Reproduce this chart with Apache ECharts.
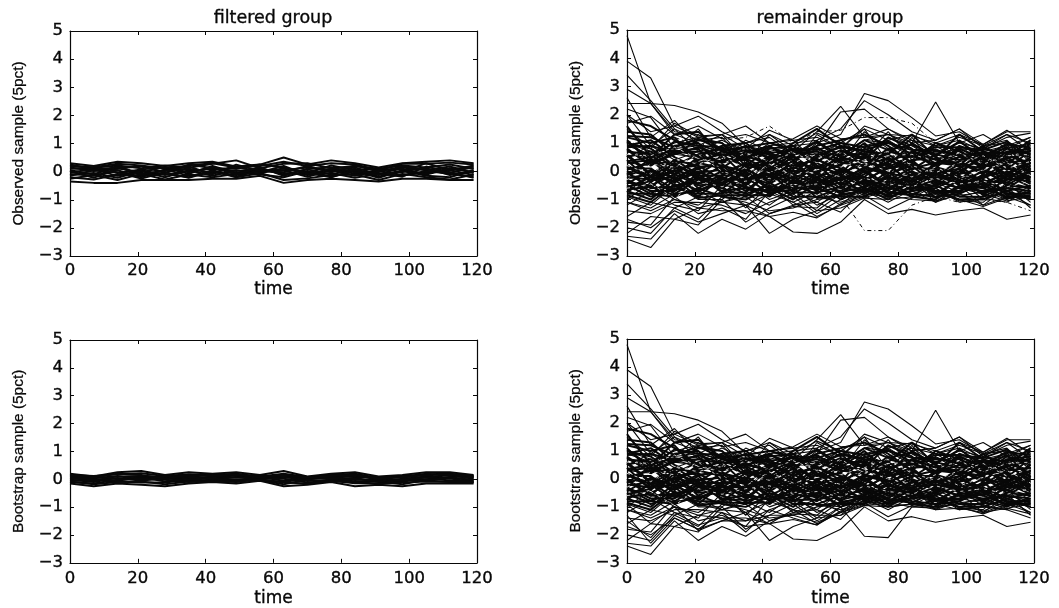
<!DOCTYPE html>
<html><head><meta charset="utf-8">
<style>html,body{margin:0;padding:0;background:#fff}#c{width:1059px;height:608px}</style>
<script src="https://cdn.jsdelivr.net/npm/echarts@6/dist/echarts.min.js"></script>
</head><body><div id="c"></div>
<script>
const times=[0,7,14,21,28,35,42,49,56,63,70,77,84,91,98,105,112,119];
const xTicks={min:0,max:120,interval:20};
const yTicks={min:-3,max:5,interval:1};
const titles=["filtered group","remainder group"];
const xName="time";
const yNames=["Observed sample (5pct)","Bootstrap sample (5pct)"];

const filteredObserved=[
[0.30,0.20,0.35,0.30,0.20,0.30,0.35,0.18,0.25,0.50,0.25,0.40,0.30,0.15,0.30,0.35,0.40,0.30],
[0.22,0.14,0.22,0.12,0.22,0.14,0.28,0.40,0.12,0.28,0.30,0.12,0.20,0.10,0.22,0.15,0.25,0.10],
[0.15,0.02,0.10,0.20,-0.05,0.25,0.12,0.10,0.25,0.15,-0.05,0.22,0.05,0.12,-0.02,0.30,0.05,0.22],
[0.10,0.12,-0.05,0.08,0.14,-0.08,0.20,-0.05,0.05,0.05,0.15,0.02,0.15,-0.10,0.15,0.05,0.18,-0.05],
[0.05,-0.10,0.20,-0.12,0.05,0.10,-0.05,0.18,-0.02,0.20,-0.12,0.10,-0.08,0.05,0.10,-0.10,0.10,0.12],
[-0.02,0.08,-0.15,0.05,-0.12,0.02,0.10,0.02,0.10,-0.10,0.08,-0.10,0.10,-0.18,0.02,0.12,-0.12,0.02],
[-0.08,-0.15,0.05,-0.20,0.08,-0.15,-0.02,-0.12,0.02,0.05,-0.18,0.06,-0.15,0.02,-0.12,-0.04,0.05,-0.12],
[-0.12,-0.05,-0.22,0.02,-0.20,0.05,-0.15,0.05,-0.10,-0.20,0.02,-0.18,0.02,-0.22,0.05,-0.15,-0.20,0.06],
[-0.20,-0.28,-0.10,-0.15,-0.08,-0.20,0.05,-0.18,0.06,-0.05,-0.10,-0.05,-0.22,-0.08,-0.15,0.02,-0.08,-0.18],
[-0.25,-0.12,-0.30,-0.08,-0.28,-0.10,-0.20,-0.08,-0.05,-0.30,-0.24,-0.12,-0.10,-0.30,-0.08,-0.20,-0.28,-0.10],
[-0.35,-0.40,-0.40,-0.30,-0.30,-0.30,-0.25,-0.25,-0.15,-0.40,-0.30,-0.25,-0.30,-0.35,-0.25,-0.25,-0.30,-0.30],
[0.18,0.16,0.28,0.22,0.10,0.22,0.30,0.15,0.20,0.35,0.20,0.30,0.25,0.05,0.28,0.28,0.32,0.25],
[0.02,-0.22,0.12,-0.02,0.16,-0.02,0.15,-0.10,0.16,-0.15,0.10,0.15,-0.02,-0.05,-0.18,0.18,-0.02,-0.22],
[-0.15,0.05,-0.02,-0.25,-0.02,-0.22,0.02,-0.20,-0.06,0.12,-0.05,-0.20,0.05,-0.12,0.00,-0.08,0.12,-0.02],
[0.25,0.08,0.15,-0.08,0.02,0.18,-0.10,0.25,0.02,-0.02,0.20,-0.02,0.22,0.00,0.18,0.08,-0.05,0.18]
];
const filteredBootstrap=[
[0.20,0.10,0.25,0.30,0.15,0.25,0.20,0.25,0.15,0.30,0.10,0.20,0.25,0.10,0.15,0.25,0.25,0.15],
[0.15,0.12,0.18,0.22,0.12,0.18,0.15,0.20,0.10,0.20,0.08,0.15,0.20,0.05,0.12,0.18,0.20,0.12],
[0.12,0.05,0.10,0.12,0.08,0.08,0.18,0.12,0.12,0.12,0.02,0.10,0.08,0.08,0.05,0.20,0.12,0.08],
[0.08,0.08,0.02,0.05,0.10,0.12,0.02,0.15,0.05,0.05,0.06,0.02,0.15,-0.02,0.10,0.05,0.15,0.02],
[0.05,-0.05,0.12,-0.02,0.02,0.02,0.10,0.05,0.08,-0.05,0.00,0.08,-0.03,0.02,-0.05,0.12,0.02,0.06],
[0.02,0.02,-0.05,0.08,-0.08,0.05,0.05,-0.02,0.02,0.10,-0.06,-0.02,0.05,-0.10,0.02,0.00,0.08,-0.05],
[-0.02,-0.10,0.05,-0.05,0.05,-0.05,-0.02,0.08,-0.02,-0.10,0.04,0.05,-0.08,-0.05,-0.10,0.08,-0.05,-0.02],
[-0.05,-0.02,-0.08,-0.12,-0.12,-0.02,0.04,-0.08,0.04,0.02,-0.12,-0.05,-0.14,-0.14,-0.02,-0.05,-0.08,-0.08],
[-0.10,-0.15,-0.02,0.02,-0.02,-0.10,-0.05,-0.05,-0.03,-0.18,-0.02,-0.08,0.02,-0.08,-0.18,-0.02,0.04,-0.12],
[-0.15,-0.25,-0.15,-0.20,-0.25,-0.15,-0.10,-0.15,-0.05,-0.25,-0.20,-0.10,-0.25,-0.20,-0.25,-0.15,-0.15,-0.15],
[0.16,0.06,0.20,0.15,0.02,0.15,0.12,0.18,0.06,0.16,0.05,0.12,0.16,0.02,0.08,0.14,0.18,0.10],
[-0.08,-0.18,-0.10,-0.08,-0.18,-0.08,-0.06,-0.10,0.00,-0.12,-0.15,-0.06,-0.10,-0.16,-0.12,-0.08,-0.10,-0.10]
];
const remainderShared=[
[1.80,1.60,1.10,0.50,0.90,1.00,0.40,1.00,1.50,0.90,0.70,0.60,1.30,0.50,1.30,0.70,0.20,1.00],
[1.60,0.50,1.30,1.40,0.70,0.60,0.90,0.40,0.90,1.10,1.30,0.90,0.30,1.00,0.70,0.20,0.80,0.60],
[1.40,1.30,0.60,1.10,1.00,0.20,0.80,0.90,0.10,0.70,0.40,1.20,0.80,0.10,0.90,0.60,0.50,1.10],
[1.20,1.00,1.20,0.30,0.50,0.90,0.10,0.60,0.70,0.40,1.00,0.20,1.00,0.50,0.20,0.90,0.30,0.40],
[1.10,0.30,0.90,1.00,0.10,0.70,0.60,0.10,0.50,0.90,0.10,0.70,0.50,0.70,0.60,0.10,0.70,0.80],
[1.00,0.80,0.20,0.60,0.80,0.10,0.30,0.80,0.20,-0.10,0.80,0.40,0.10,0.30,0.80,0.40,-0.10,0.50],
[0.90,1.10,0.50,0.10,0.30,0.50,0.70,-0.10,0.60,0.30,0.20,0.80,0.30,-0.10,0.10,0.70,0.40,0.10],
[0.80,0.20,0.70,0.80,-0.10,0.30,0.00,0.50,-0.10,0.60,0.60,-0.10,0.70,0.40,0.30,-0.10,0.60,0.20],
[0.70,0.60,-0.10,0.40,0.60,-0.20,0.50,0.20,0.40,0.10,-0.20,0.50,-0.20,0.20,0.50,0.20,0.10,-0.20],
[0.60,-0.10,0.40,-0.10,0.40,0.40,-0.20,0.30,-0.30,0.50,0.30,0.10,0.40,-0.30,0.00,0.50,-0.30,0.30],
[0.50,0.70,0.10,0.20,-0.30,0.20,0.20,-0.30,0.30,-0.20,0.50,-0.30,0.10,0.10,-0.30,0.30,0.20,-0.10],
[0.40,-0.40,0.30,-0.30,0.20,-0.40,0.40,0.00,0.00,0.20,-0.40,0.20,-0.40,0.30,0.20,-0.40,-0.10,0.30],
[0.30,0.40,-0.30,0.00,-0.50,0.10,-0.40,0.40,-0.40,-0.30,0.10,-0.10,0.20,-0.50,-0.10,0.10,-0.50,0.00],
[0.20,-0.20,0.00,0.30,0.10,-0.50,0.10,-0.40,0.20,-0.50,-0.10,0.30,-0.50,0.00,-0.50,-0.20,0.30,-0.40],
[0.10,0.10,-0.50,-0.40,0.00,-0.10,-0.30,-0.10,-0.50,0.00,-0.50,-0.40,0.00,-0.40,0.10,-0.50,0.00,-0.30],
[0.00,-0.60,0.20,-0.60,-0.20,-0.70,0.00,-0.60,-0.10,-0.60,0.00,-0.60,-0.30,-0.20,-0.40,0.00,-0.40,-0.60],
[-0.10,0.00,-0.40,0.10,-0.60,0.00,-0.60,-0.20,-0.70,-0.10,-0.60,0.00,-0.70,-0.60,-0.20,-0.60,-0.20,0.10],
[-0.20,-0.30,-0.20,-0.70,-0.30,-0.30,-0.10,-0.70,-0.20,-0.70,-0.30,-0.70,-0.10,-0.70,-0.70,-0.30,-0.70,-0.50],
[-0.30,-0.70,-0.70,-0.20,-0.70,-0.60,-0.70,-0.40,-0.60,-0.40,-0.70,-0.20,-0.60,-0.30,-0.60,-0.70,-0.60,-0.70],
[-0.40,-0.50,-0.10,-0.50,-0.40,-0.80,-0.50,-0.80,-0.30,-0.80,-0.20,-0.80,-0.40,-0.80,-0.30,-0.80,-0.30,-0.20],
[-0.50,-0.90,-0.60,-0.80,-0.80,-0.20,-0.80,-0.50,-0.80,-0.20,-0.80,-0.40,-0.80,-0.90,-0.80,-0.40,-0.80,-0.80],
[-0.60,-0.20,-0.80,-0.30,-0.60,-0.90,-0.40,-0.90,-0.90,-0.60,-0.40,-0.90,-0.70,-0.50,-0.90,-0.90,-0.50,-0.60],
[-0.70,-1.00,-0.30,-0.90,-0.20,-0.60,-0.90,-0.30,-0.60,-0.90,-0.90,-0.50,-0.90,-1.00,-0.50,-0.60,-0.90,-0.90],
[-0.80,-0.80,-0.90,-0.60,-0.90,-1.00,-0.60,-1.00,-0.40,-1.00,-0.60,-1.00,-0.50,-0.70,-1.00,-1.00,-0.70,-1.00],
[0.35,0.50,0.75,0.55,0.35,0.55,0.25,0.65,0.85,0.35,0.65,0.15,0.55,0.25,0.75,0.15,0.45,0.65],
[0.05,0.30,0.60,0.85,0.55,0.15,0.45,-0.15,0.35,0.75,0.45,0.60,0.05,0.60,0.40,0.45,0.85,0.05],
[0.75,0.25,0.35,0.25,0.70,0.45,0.05,0.35,0.10,0.45,-0.05,0.35,0.65,0.15,-0.10,0.60,0.05,0.75],
[-0.15,0.45,-0.15,0.50,0.20,0.00,0.55,0.10,0.45,-0.05,0.25,0.45,-0.05,-0.15,0.35,-0.05,0.50,-0.05],
[0.55,-0.15,0.25,-0.15,-0.15,0.30,-0.15,0.55,-0.05,0.25,0.55,-0.20,0.40,0.45,0.15,0.35,-0.15,0.40],
[-0.45,0.05,-0.25,0.15,0.25,-0.25,-0.05,-0.25,0.15,-0.35,0.15,-0.05,-0.25,0.05,-0.20,-0.25,0.15,-0.25],
[0.15,-0.30,0.05,-0.20,-0.40,0.05,-0.30,0.15,-0.20,0.05,-0.30,0.10,0.25,-0.25,0.25,0.10,-0.30,0.20],
[-0.25,-0.10,-0.35,-0.05,0.05,-0.45,0.15,-0.45,-0.05,-0.45,0.05,-0.50,-0.10,-0.10,-0.45,-0.15,-0.05,-0.45],
[-0.55,-0.35,0.00,-0.45,-0.15,-0.15,-0.45,0.05,-0.45,0.10,-0.45,-0.25,-0.35,-0.55,0.00,-0.35,-0.40,0.05],
[-0.05,-0.60,-0.55,-0.25,-0.55,-0.35,-0.20,-0.35,-0.55,-0.25,-0.20,-0.60,-0.15,-0.35,-0.60,-0.55,-0.15,-0.55],
[-0.35,-0.80,-0.20,-0.75,-0.25,-0.55,-0.75,-0.65,-0.25,-0.75,-0.55,-0.15,-0.65,-0.05,-0.35,-0.75,-0.60,-0.10],
[-0.75,-0.15,-0.65,-0.10,-0.75,-0.75,-0.05,-0.75,-0.75,-0.55,-0.75,-0.35,-0.50,-0.75,-0.75,-0.10,-0.85,-0.75],
[-0.65,-0.55,-0.85,-0.65,-0.45,-0.05,-0.65,-0.55,-0.65,-0.15,-0.35,-0.75,-0.85,-0.45,-0.15,-0.85,-0.25,-0.35],
[-0.85,-1.10,-0.45,-0.95,-0.85,-0.85,-0.85,-0.15,-0.95,-0.85,-0.65,-0.85,-0.20,-0.95,-0.55,-0.45,-0.95,-0.85],
[0.85,0.90,0.65,0.70,0.55,0.75,0.65,0.75,0.55,0.85,0.75,1.00,0.75,0.75,0.55,0.65,0.65,0.70],
[1.05,0.45,1.05,0.90,0.85,0.45,0.85,0.55,1.05,0.55,1.10,0.75,0.95,0.55,1.05,0.50,0.95,0.85],
[1.25,1.20,0.85,1.15,0.75,0.85,1.00,0.80,0.75,1.00,0.85,1.05,0.60,0.85,0.85,0.75,1.05,0.55]
];
const remainderEdges=[
[4.80,2.40,1.30,1.00,0.60,0.90,0.50,0.80,0.40,0.60,0.90,0.50,0.70,0.30,0.60,0.40,0.70,0.50],
[3.90,3.30,1.60,1.20,1.00,0.50,0.90,0.30,1.00,0.50,1.10,1.00,0.50,0.80,0.30,0.60,0.30,0.80],
[3.40,2.50,1.50,0.70,1.10,0.70,0.20,0.90,0.60,1.00,0.60,1.20,0.90,0.40,0.80,0.50,1.00,0.40],
[2.90,2.40,1.40,1.30,0.80,1.00,1.20,0.60,1.10,0.30,1.40,0.80,1.10,0.60,1.00,0.80,0.60,1.00],
[2.60,1.20,1.80,0.90,1.30,0.40,1.00,1.10,0.30,1.10,0.50,1.40,0.40,1.00,0.50,0.90,1.10,0.30],
[2.20,1.90,0.80,1.50,0.40,1.10,0.70,0.20,1.30,0.80,1.50,0.30,1.20,0.20,1.10,0.30,0.90,1.20],
[2.00,0.90,1.50,1.10,1.20,0.30,1.30,0.70,0.80,0.20,0.90,1.10,0.60,0.90,0.40,0.80,1.30,0.70],
[2.00,1.40,1.60,1.95,1.40,1.00,1.30,0.90,1.35,1.00,1.50,1.10,1.30,0.90,1.20,0.90,1.30,1.00],
[1.70,1.95,1.30,1.60,1.15,1.30,1.00,1.15,1.60,1.15,1.20,1.50,1.00,1.10,1.50,0.80,1.20,1.35],
[1.50,0.80,1.70,1.25,1.30,0.80,1.45,1.10,1.20,0.80,1.60,1.30,1.25,1.00,1.30,0.95,1.45,0.90],
[-0.90,-1.20,-0.50,-1.00,-1.00,-0.40,-1.00,-0.70,-1.10,-0.50,-0.85,-0.70,-0.85,-1.05,-0.70,-0.50,-1.00,-0.70],
[-1.00,-0.40,-1.00,-1.20,-0.70,-1.20,-0.80,-1.10,-0.70,-1.20,-0.50,-0.85,-0.60,-0.60,-1.05,-1.10,-0.40,-1.10],
[-1.10,-1.30,-0.80,-0.70,-1.10,-0.80,-1.20,-0.60,-1.20,-0.80,-0.70,-0.60,-0.80,-0.90,-0.60,-0.80,-1.05,-0.90],
[-1.20,-0.70,-1.20,-1.40,-0.50,-1.30,-0.50,-1.20,-0.90,-1.10,-0.80,-0.90,-0.30,-1.10,-0.80,-1.20,-0.90,-1.20],
[-1.40,-1.50,-1.10,-1.10,-1.20,-1.50,-1.10,-0.80,-1.40,-1.30,-0.95,-1.00,-0.90,-0.80,-1.00,-0.90,-0.80,-1.00],
[-1.60,-1.10,-1.30,-1.70,-0.90,-1.10,-1.40,-1.30,-1.00,-0.90,-0.60,-0.75,-0.70,-1.10,-0.50,-1.20,-0.60,-0.80],
[-1.80,-1.90,-0.90,-1.50,-1.30,-1.70,-0.70,-1.10,-1.60,-1.20,-0.90,-0.30,-0.95,-0.50,-0.90,-0.70,-1.00,-0.50],
[-2.00,-2.20,-1.30,-0.90,-1.10,-0.90,-1.50,-1.25,-1.30,-0.60,-0.40,-0.95,-0.50,-0.90,-0.30,-1.00,-0.50,-0.95],
[-2.20,-1.60,-1.70,-1.90,-1.00,-1.80,-1.30,-0.90,-1.50,-1.00,-0.70,-1.10,-0.65,-0.40,-0.75,-0.55,-0.75,-1.20],
[-2.40,-2.70,-1.70,-1.30,-1.40,-1.40,-1.60,-1.45,-1.65,-1.15,-0.85,-1.35,-0.95,-0.75,-1.00,-1.25,-0.95,-0.70],
[-2.30,-2.40,-1.50,-2.20,-1.70,-2.05,-1.50,-1.20,-1.10,-1.45,-0.60,-0.85,-1.00,-1.05,-0.85,-0.75,-0.55,-1.30],
[-1.70,-2.00,-1.40,-1.80,-1.50,-1.20,-2.20,-1.70,-1.40,-0.80,-0.95,-0.65,-0.45,-0.60,-1.10,-0.95,-1.10,-0.60]
];
const remainderObservedExtra=[
[2.40,2.40,2.33,2.10,1.70,0.90,0.60,0.40,0.80,0.50,0.70,0.40,0.60,0.30,0.50,0.40,0.60,0.30],
[0.90,0.60,1.00,1.20,1.30,1.60,1.00,0.70,1.40,2.30,1.20,1.30,0.90,0.60,0.80,0.70,0.90,0.50],
[1.00,0.70,0.80,0.90,0.70,0.90,0.70,0.90,1.00,1.30,2.75,2.50,1.90,1.25,1.40,0.90,1.00,0.80],
[0.50,0.90,0.40,0.70,0.90,0.70,0.90,1.00,1.10,1.50,2.50,2.00,1.40,1.10,1.50,0.95,1.40,1.40],
[0.30,0.20,0.60,0.50,0.30,0.70,0.50,0.60,0.90,2.10,2.20,1.50,1.10,0.90,1.10,0.70,0.80,1.20],
[0.70,0.40,0.70,0.40,0.60,0.40,0.60,0.50,0.50,0.60,1.10,1.30,1.00,2.45,1.00,1.30,0.80,1.00],
[-1.10,-1.40,-1.00,-1.30,-1.10,-1.20,-1.60,-2.15,-2.20,-1.80,-1.00,-1.50,-1.35,-1.55,-1.40,-1.30,-1.70,-1.55]
];
const remainderObservedDashed=[
[-0.60,-0.80,-0.50,-0.90,-0.80,-0.90,-0.70,-0.80,-0.90,-0.90,-2.10,-2.10,-1.20,-0.90,-1.10,-1.00,-1.10,-1.40],
[1.10,0.70,1.20,0.90,1.10,1.20,1.60,1.00,1.40,1.45,1.90,1.90,1.70,1.00,0.80,0.60,0.90,0.70]
];
const remainderBootstrapExtra=[
[2.40,2.40,2.33,2.10,1.70,0.90,0.60,0.40,0.80,0.50,0.70,0.40,0.60,0.30,0.50,0.40,0.60,0.30],
[0.90,0.60,1.00,1.20,1.30,1.60,1.00,0.70,1.40,2.30,1.20,1.30,0.90,0.60,0.80,0.70,0.90,0.50],
[1.00,0.70,0.80,0.90,0.70,0.90,0.70,0.90,1.00,1.30,2.75,2.50,1.90,1.25,1.40,0.90,1.00,0.80],
[0.50,0.90,0.40,0.70,0.90,0.70,0.90,1.00,1.10,1.50,2.50,2.00,1.40,1.10,1.50,0.95,1.40,1.40],
[0.30,0.20,0.60,0.50,0.30,0.70,0.50,0.60,0.90,2.10,2.20,1.50,1.10,0.90,1.10,0.70,0.80,1.20],
[0.70,0.40,0.70,0.40,0.60,0.40,0.60,0.50,0.50,0.60,1.10,1.30,1.00,2.45,1.00,1.30,0.80,1.00],
[-1.10,-1.40,-1.00,-1.30,-1.10,-1.20,-1.60,-2.15,-2.20,-1.80,-1.00,-1.50,-1.35,-1.55,-1.40,-1.30,-1.70,-1.55],
[-0.60,-0.80,-0.50,-0.90,-0.80,-0.90,-0.70,-0.80,-0.90,-1.00,-2.05,-2.10,-1.00,-0.90,-1.10,-1.00,-1.10,-1.40],
[-1.30,-2.30,-1.40,-1.80,-1.20,-1.90,-1.10,-1.40,-1.65,-1.00,-0.80,-1.00,-0.90,-1.10,-1.05,-1.20,-1.05,-1.25],
[-1.50,-2.10,-1.20,-1.65,-1.40,-1.70,-1.60,-1.10,-1.30,-1.30,-0.60,-0.70,-0.85,-1.00,-0.90,-1.15,-0.80,-1.00],
[-0.90,-1.60,-1.00,-1.85,-1.50,-1.50,-1.30,-1.30,-1.55,-1.20,-0.95,-0.85,-0.60,-0.80,-0.70,-0.85,-0.95,-0.85]
];
const remainderSpeckle=[
[0.20,-0.10,0.45,0.25,0.55,0.10,-0.05,0.30,0.60,0.15,0.40,0.70,0.20,-0.05,0.30,0.55,0.10,0.35],
[-0.30,0.25,0.15,0.60,0.00,-0.25,0.25,-0.15,0.05,-0.20,0.30,0.00,-0.20,0.15,-0.25,0.05,0.30,-0.15],
[0.60,0.55,0.85,0.45,0.25,0.65,0.35,0.65,0.30,0.70,0.20,0.55,0.60,0.35,0.65,0.25,0.55,0.60],
[-0.60,-0.45,-0.95,-0.35,-0.55,-0.35,-0.25,-0.55,-0.45,-0.65,-0.25,-0.45,-0.55,-0.25,-0.45,-0.35,-0.55,-0.35]
];

const ink="#080808";
const panels=[
 {left:70,top:31,height:225,title:titles[0],yName:yNames[0],tickGap:6,nameGap:25,core:[filteredObserved],thin:[],dashed:[],speckle:[]},
 {left:627,top:30,height:226,title:titles[1],yName:yNames[0],tickGap:6,nameGap:25,core:[remainderShared],thin:[remainderEdges,remainderObservedExtra],dashed:remainderObservedDashed,speckle:remainderSpeckle},
 {left:70,top:340,height:227,title:"",yName:yNames[1],tickGap:7,nameGap:27,core:[filteredBootstrap],thin:[],dashed:[],speckle:[]},
 {left:627,top:339,height:228,title:"",yName:yNames[1],tickGap:7,nameGap:27,core:[remainderShared],thin:[remainderEdges,remainderBootstrapExtra],dashed:[],speckle:remainderSpeckle}
];
const pairs=row=>times.map((t,i)=>[t,row[i]]);
const heavy={textBorderColor:ink,textBorderWidth:0.35};
const tickFont={fontFamily:"DejaVu Sans",fontSize:16.5,color:ink,...heavy};
const grid=[],xAxis=[],yAxis=[],series=[],title=[];
panels.forEach((p,k)=>{
  grid.push({left:p.left,top:p.top,width:407,height:p.height});
  if(p.title) title.push({text:p.title,left:p.left+198,top:4,textAlign:"center",
    textStyle:{fontFamily:"DejaVu Sans",fontSize:17.5,fontWeight:"normal",color:ink,...heavy}});
  const line={show:true,onZero:false,lineStyle:{color:ink,width:1.2}};
  const tick={show:true,inside:true,length:4,lineStyle:{color:ink,width:1}};
  xAxis.push({type:"value",gridIndex:k,...xTicks,position:"bottom",axisLine:line,axisTick:tick,splitLine:{show:false},
    axisLabel:{...tickFont,margin:p.tickGap},name:xName,nameLocation:"middle",nameGap:p.nameGap,
    nameTextStyle:{fontFamily:"DejaVu Sans",fontSize:17,color:ink,...heavy}});
  xAxis.push({type:"value",gridIndex:k,...xTicks,position:"top",axisLine:line,axisTick:tick,splitLine:{show:false},axisLabel:{show:false}});
  yAxis.push({type:"value",gridIndex:k,...yTicks,position:"left",axisLine:line,axisTick:tick,splitLine:{show:false},
    axisLabel:{...tickFont,margin:7,formatter:v=>String(v).replace("-","\u2212")},
    name:p.yName,nameLocation:"middle",nameRotate:90,nameGap:44,
    nameTextStyle:{fontFamily:"Liberation Sans",fontSize:15.4,color:ink,textBorderColor:ink,textBorderWidth:0.25}});
  yAxis.push({type:"value",gridIndex:k,...yTicks,position:"right",axisLine:line,axisTick:tick,splitLine:{show:false},axisLabel:{show:false}});
  const base={type:"line",xAxisIndex:2*k,yAxisIndex:2*k,showSymbol:false,symbol:"none",silent:true,animation:false};
  p.core.forEach(set=>set.forEach(row=>series.push({...base,data:pairs(row),lineStyle:{color:ink,width:2}})));
  p.thin.forEach(set=>set.forEach(row=>series.push({...base,data:pairs(row),lineStyle:{color:ink,width:1.1}})));
  p.dashed.forEach(row=>series.push({...base,data:pairs(row),lineStyle:{color:ink,width:1,type:[4,3,1,3]}}));
  p.speckle.forEach(row=>series.push({...base,data:pairs(row),lineStyle:{color:"#dcdcdc",width:0.9,type:[3,5]}}));
});
echarts.init(document.getElementById("c"),null,{renderer:"canvas"}).setOption({
  backgroundColor:"#fff",animation:false,title,grid,xAxis,yAxis,series
});
</script></body></html>
